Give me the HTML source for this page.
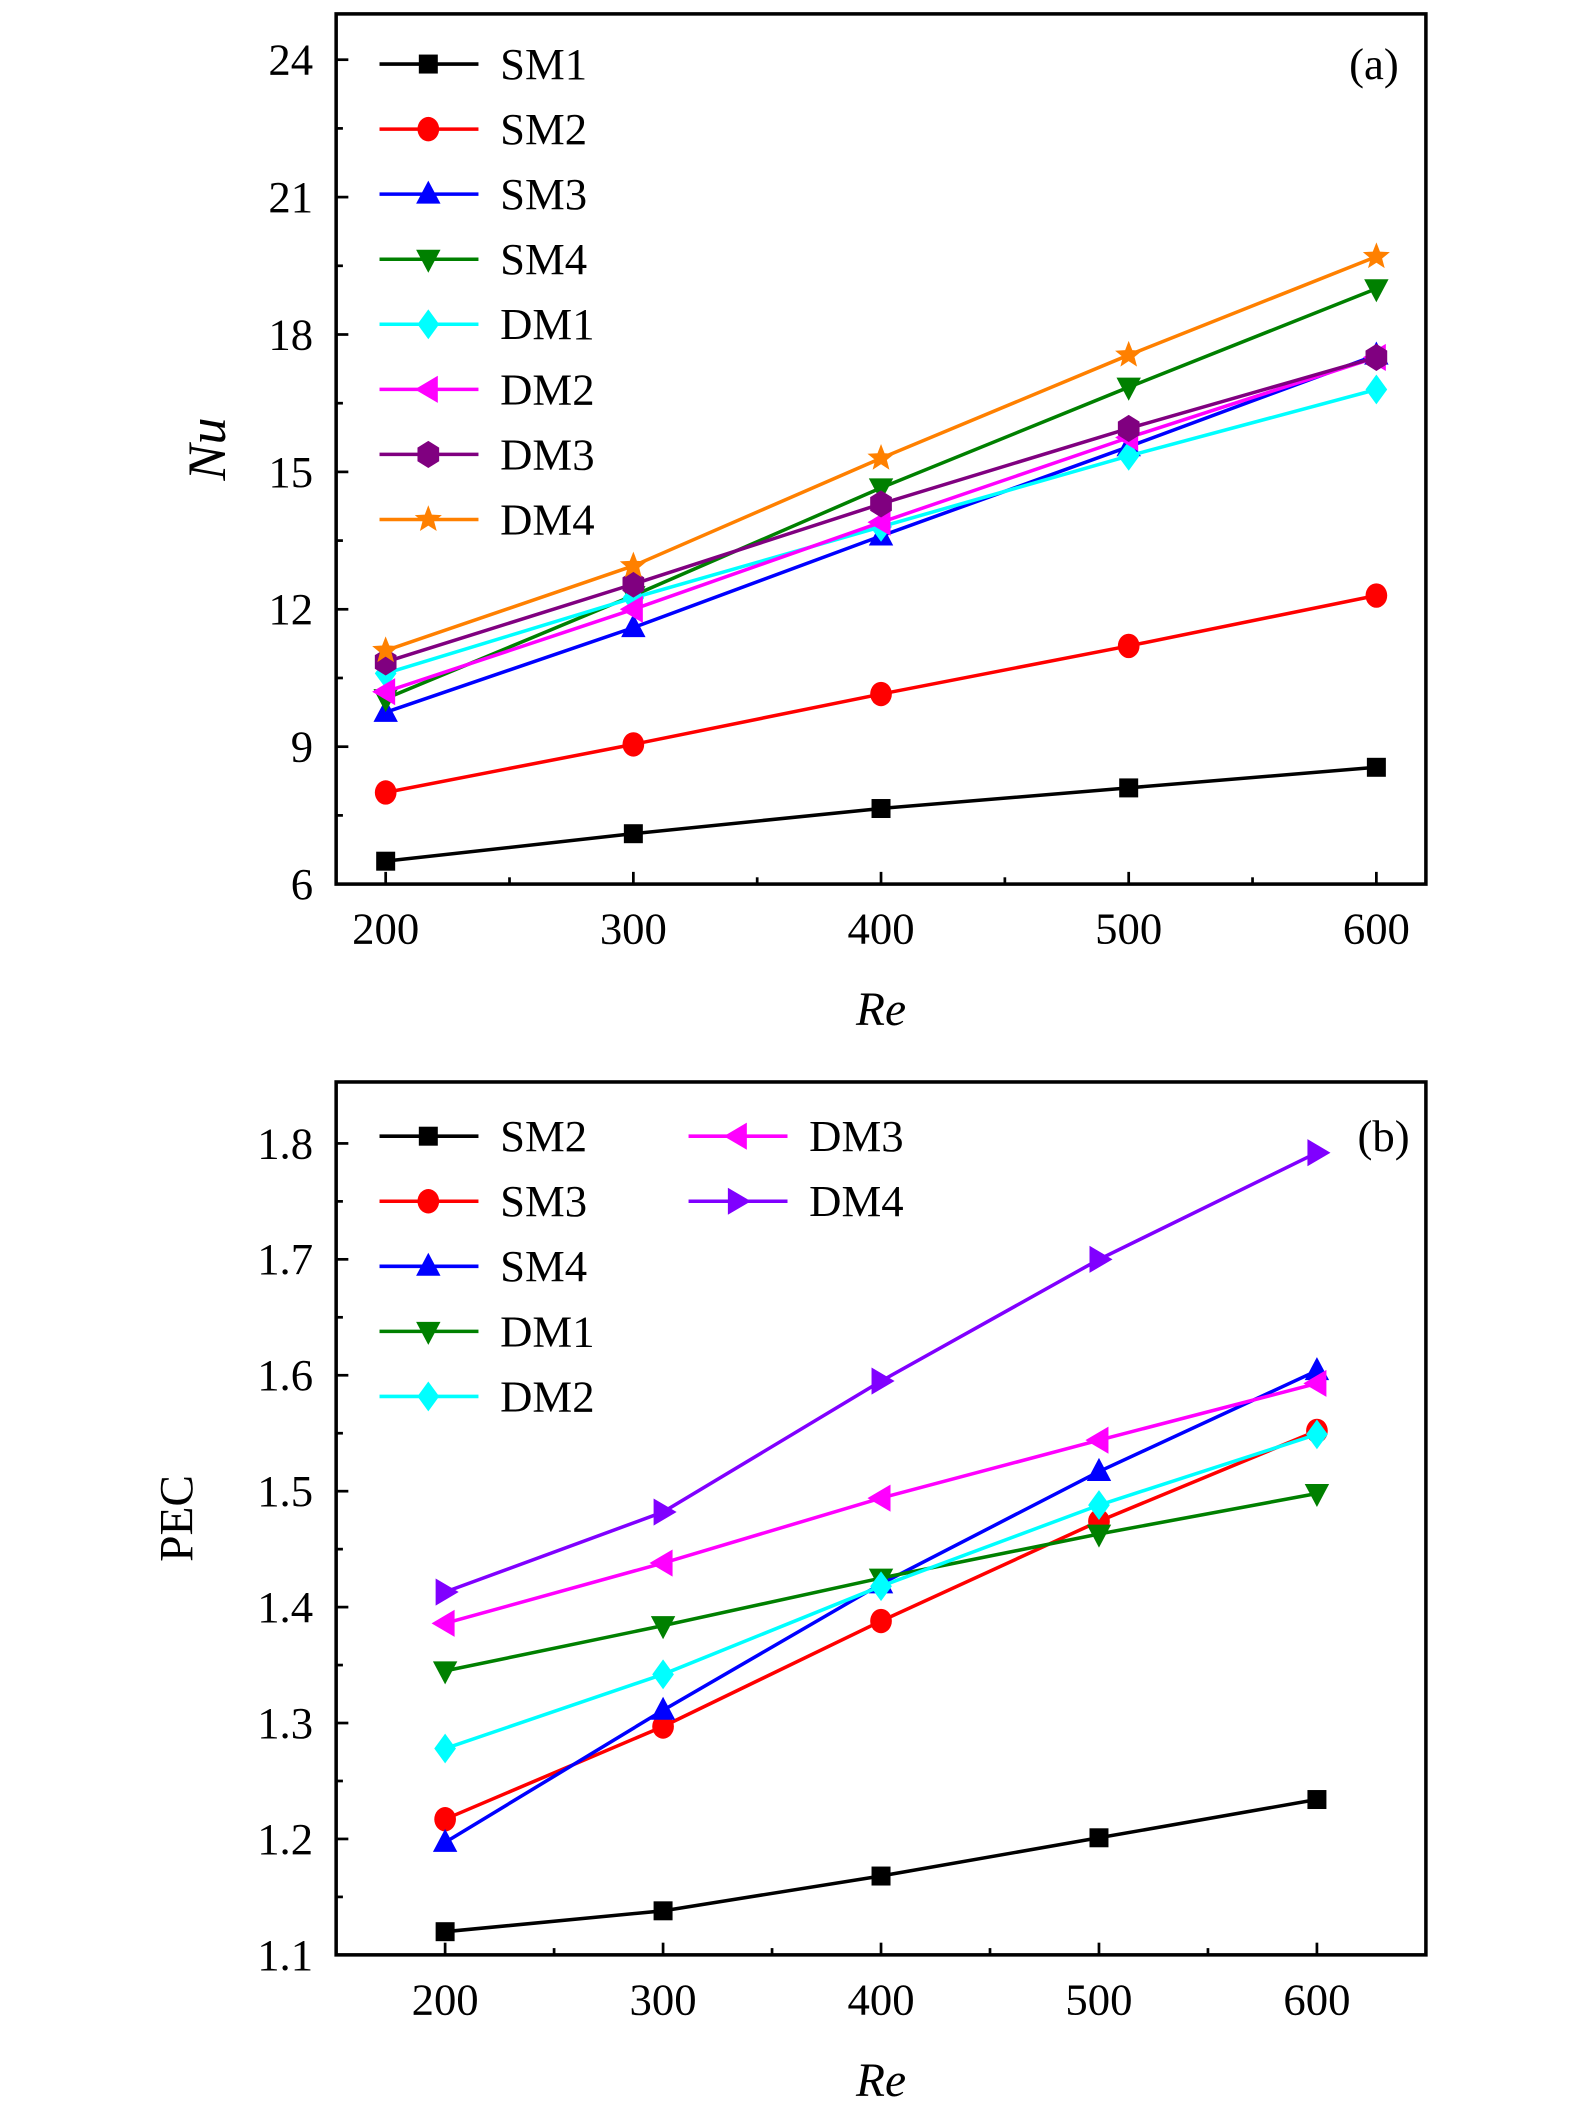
<!DOCTYPE html>
<html><head><meta charset="utf-8"><style>
html,body{margin:0;padding:0;background:#fff}
svg{display:block}
svg text{font-family:"Liberation Serif","DejaVu Serif",serif;fill:#000}
</style></head><body>
<svg id="fig" width="1575" height="2126" viewBox="0 0 1162 1568" font-family="Liberation Serif, DejaVu Serif, serif" xmlns="http://www.w3.org/2000/svg"></svg>
<script>
const reVals = [200, 300, 400, 500, 600];
const aSeriesNames = ["SM1","SM2","SM3","SM4","DM1","DM2","DM3","DM4"];
const aSM1 = [6.5, 7.1, 7.65, 8.1, 8.55];
const aSM2 = [8.0, 9.05, 10.15, 11.2, 12.3];
const aSM3 = [9.75, 11.6, 13.6, 15.55, 17.55];
const aSM4 = [10.05, 12.3, 14.65, 16.85, 19.0];
const aDM1 = [10.6, 12.25, 13.8, 15.35, 16.8];
const aDM2 = [10.2, 12.0, 13.9, 15.75, 17.5];
const aDM3 = [10.85, 12.55, 14.3, 15.95, 17.5];
const aDM4 = [11.1, 12.95, 15.3, 17.55, 19.7];
const aYTicks = [6, 9, 12, 15, 18, 21, 24];
const bSeriesNames = ["SM2","SM3","SM4","DM1","DM2","DM3","DM4"];
const bSM2 = [1.12, 1.138, 1.168, 1.201, 1.234];
const bSM3 = [1.217, 1.297, 1.388, 1.474, 1.552];
const bSM4 = [1.197, 1.311, 1.42, 1.517, 1.604];
const bDM1 = [1.345, 1.384, 1.425, 1.463, 1.498];
const bDM2 = [1.278, 1.342, 1.418, 1.488, 1.549];
const bDM3 = [1.386, 1.438, 1.494, 1.544, 1.593];
const bDM4 = [1.413, 1.482, 1.595, 1.700, 1.792];
const bYTicks = [1.1, 1.2, 1.3, 1.4, 1.5, 1.6, 1.7, 1.8];

const NS = "http://www.w3.org/2000/svg";
const svg = document.getElementById("fig");
function mk(tag, attrs, parent) {
  const e = document.createElementNS(NS, tag);
  for (const k in attrs) e.setAttribute(k, attrs[k]);
  (parent || svg).appendChild(e);
  return e;
}
function marker(g, type, x, y, color) {
  let e;
  if (type === "square") e = mk("rect", {x: x - 7, y: y - 7, width: 14, height: 14, fill: color}, g);
  else if (type === "circle") e = mk("ellipse", {cx: x, cy: y, rx: 8, ry: 9, fill: color}, g);
  else if (type === "up") e = mk("polygon", {points: `${x},${y - 10} ${x - 9},${y + 7} ${x + 9},${y + 7}`, fill: color}, g);
  else if (type === "down") e = mk("polygon", {points: `${x},${y + 10} ${x - 9},${y - 7} ${x + 9},${y - 7}`, fill: color}, g);
  else if (type === "diamond") e = mk("polygon", {points: `${x},${y - 11} ${x + 8},${y} ${x},${y + 11} ${x - 8},${y}`, fill: color}, g);
  else if (type === "left") e = mk("polygon", {points: `${x - 10},${y} ${x + 7},${y - 10} ${x + 7},${y + 10}`, fill: color}, g);
  else if (type === "right") e = mk("polygon", {points: `${x + 10},${y} ${x - 7},${y - 10} ${x - 7},${y + 10}`, fill: color}, g);
  else if (type === "hex") e = mk("polygon", {points: `${x},${y - 10} ${x + 8},${y - 5} ${x + 8},${y + 5} ${x},${y + 10} ${x - 8},${y + 5} ${x - 8},${y - 5}`, fill: color}, g);
  else if (type === "star") {
    let p = [];
    for (let i = 0; i < 10; i++) {
      const r = i % 2 ? 4.5 : 10.5, a = -Math.PI / 2 + i * Math.PI / 5;
      p.push((x + r * Math.cos(a)).toFixed(1) + "," + (y + r * Math.sin(a)).toFixed(1));
    }
    e = mk("polygon", {points: p.join(" "), fill: color}, g);
  }
  
  
  return e;
}

function panel(cfg) {
  const {L, R, T, B, xmin, xmax, ymin, ymax} = cfg;
  const xs = v => L + (v - xmin) / (xmax - xmin) * (R - L);
  const ys = v => B - (v - ymin) / (ymax - ymin) * (B - T);
  const g = mk("g", {});
  
  
  reVals.forEach((v, i) => {
    const x = xs(v);
    mk("line", {x1: x, y1: B, x2: x, y2: B - 9, stroke: "#000", "stroke-width": 2}, g);
    const t = mk("text", {x: x, y: B + 44, "text-anchor": "middle", "font-size": 33}, g);
    t.textContent = v;
    
    
    if (i < reVals.length - 1) {
      const xm = xs(v + 50);
      mk("line", {x1: xm, y1: B, x2: xm, y2: B - 5, stroke: "#000", "stroke-width": 2}, g);
    }
  });
  cfg.yTicks.forEach((v, i) => {
    const y = ys(v);
    mk("line", {x1: L, y1: y, x2: L + 9, y2: y, stroke: "#000", "stroke-width": 2}, g);
    const t = mk("text", {x: L - 17, y: y + 11, "text-anchor": "end", "font-size": 33}, g);
    t.textContent = cfg.yFmt(v);
    
    
    if (i < cfg.yTicks.length - 1) {
      const ym = ys(v + cfg.yStep / 2);
      mk("line", {x1: L, y1: ym, x2: L + 5, y2: ym, stroke: "#000", "stroke-width": 2}, g);
    }
  });
  cfg.series.forEach(s => {
    const sg = mk("g", {}, g);
    
    
    const pts = s.data.map((v, i) => xs(reVals[i]).toFixed(1) + "," + ys(v).toFixed(1)).join(" ");
    const pl = mk("polyline", {points: pts, fill: "none", stroke: s.color, "stroke-width": 2.6}, sg);
    
    
    s.data.forEach((v, i) => marker(sg, s.m, xs(reVals[i]), ys(v), s.color));
  });
  cfg.series.forEach((s, i) => {
    const col = Math.floor(i / cfg.legRows), row = i % cfg.legRows;
    const lx = cfg.legX[col], ly = cfg.legY + row * 48;
    const lg = mk("g", {}, g);
    
    
    mk("line", {x1: lx, y1: ly, x2: lx + 73, y2: ly, stroke: s.color, "stroke-width": 2.6}, lg);
    marker(lg, s.m, lx + 36, ly, s.color);
    const t = mk("text", {x: lx + 89, y: ly + 11, "font-size": 33}, lg);
    t.textContent = s.name;
  });
  const fr = mk("rect", {x: L, y: T, width: R - L, height: B - T, fill: "none", stroke: "#000", "stroke-width": 2.6}, g);
  
  
  const pt = mk("text", {x: cfg.plX, y: cfg.plY, "text-anchor": "end", "font-size": 33}, g);
  pt.textContent = cfg.panelLabel;
  
  
  const xl = mk("text", {x: (L + R) / 2, y: B + 104, "text-anchor": "middle", "font-size": 35, "font-style": "italic"}, g);
  xl.textContent = "Re";
  
  
  const yl = mk("text", {x: 0, y: 0, "text-anchor": "middle", "font-size": cfg.ylSize, "font-style": cfg.yItalic ? "italic" : "normal", transform: `translate(${cfg.ylX},${(T + B) / 2}) rotate(-90)`}, g);
  yl.textContent = cfg.yLabel;
  
  
}

panel({
  name: "panel-a-nu", L: 248, R: 1052, T: 10, B: 652, xmin: 180, xmax: 620, ymin: 6, ymax: 25.0,
  yTicks: aYTicks, yStep: 3, yFmt: v => String(v), yLabel: "Nu", yItalic: true, ylX: 166, ylSize: 40,
  panelLabel: "(a)", plX: 1032, plY: 58, legRows: 8, legX: [280], legY: 47,
  series: [
    {name: "SM1", data: aSM1, color: "#000000", m: "square"},
    {name: "SM2", data: aSM2, color: "#ff0000", m: "circle"},
    {name: "SM3", data: aSM3, color: "#0000ff", m: "up"},
    {name: "SM4", data: aSM4, color: "#008000", m: "down"},
    {name: "DM1", data: aDM1, color: "#00ffff", m: "diamond"},
    {name: "DM2", data: aDM2, color: "#ff00ff", m: "left"},
    {name: "DM3", data: aDM3, color: "#800080", m: "hex"},
    {name: "DM4", data: aDM4, color: "#ff8000", m: "star"}
  ]
});
panel({
  name: "panel-b-pec", L: 248, R: 1052, T: 798, B: 1442, xmin: 150, xmax: 650, ymin: 1.1, ymax: 1.853,
  yTicks: bYTicks, yStep: 0.1, yFmt: v => v.toFixed(1), yLabel: "PEC", yItalic: false, ylX: 142, ylSize: 35,
  panelLabel: "(b)", plX: 1040, plY: 849, legRows: 5, legX: [280, 508], legY: 838,
  series: [
    {name: "SM2", data: bSM2, color: "#000000", m: "square"},
    {name: "SM3", data: bSM3, color: "#ff0000", m: "circle"},
    {name: "SM4", data: bSM4, color: "#0000ff", m: "up"},
    {name: "DM1", data: bDM1, color: "#008000", m: "down"},
    {name: "DM2", data: bDM2, color: "#00ffff", m: "diamond"},
    {name: "DM3", data: bDM3, color: "#ff00ff", m: "left"},
    {name: "DM4", data: bDM4, color: "#8000ff", m: "right"}
  ]
});
</script>
</body></html>
